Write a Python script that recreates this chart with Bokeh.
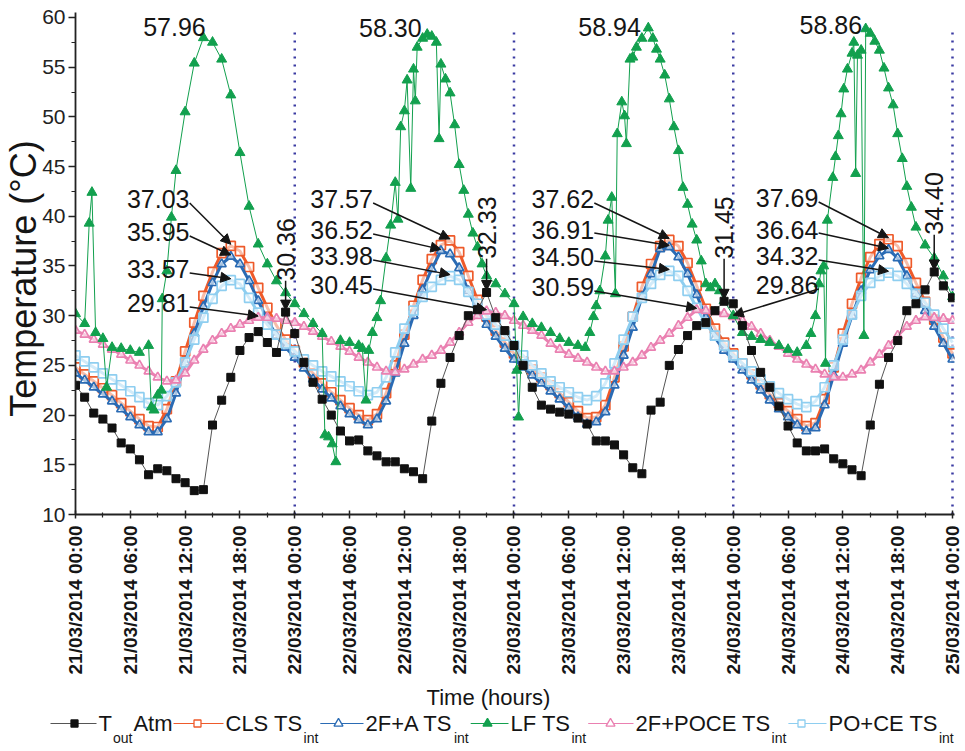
import math
from bokeh.plotting import figure
from bokeh.models import (ColumnDataSource, Range1d, FixedTicker, SingleIntervalTicker,
                          LabelSet, Arrow, NormalHead)
from bokeh.layouts import column
from bokeh.embed import file_html
from bokeh.resources import INLINE
from bokeh.core.properties import value

FONT = "Liberation Sans"

# ---------------- data (hourly, 21/03/2014 00:00 = hour 0) ----------------
hours = list(range(97))

t_out_atm = [23.0, 21.8, 20.2, 19.6, 18.7, 17.2, 16.6, 15.5, 14.0, 14.6, 14.4, 13.6, 13.2, 12.4, 12.5,
             19.0, 21.5, 23.8, 26.5, 27.8, 28.4, 27.3, 26.3, 30.36, 28.2,
             25.3, 23.3, 21.6, 20.0, 18.4, 17.4, 17.5, 16.4, 15.9, 15.3, 15.3, 14.6, 14.3, 13.6,
             19.4, 23.2, 25.8, 28.0, 30.0, 30.6, 32.33, 29.8, 28.5, 27.0,
             25.0, 22.8, 21.0, 20.6, 20.3, 20.1, 19.7, 19.1, 17.4, 17.4, 17.0, 16.0, 14.7, 14.1,
             20.5, 21.3, 25.0, 26.6, 28.0, 29.0, 29.3, 30.5, 31.45, 31.2,
             29.0, 26.5, 24.3, 22.8, 20.9, 18.9, 17.2, 16.4, 16.4, 16.6, 15.6, 15.1, 14.5, 13.9,
             19.0, 23.1, 25.8, 27.5, 30.5, 31.2, 32.6, 34.40, 33.0, 31.8]

cls_ts = [24.8, 24.1, 23.4, 22.7, 22.0, 21.2, 20.4, 19.6, 18.9, 18.8, 20.6, 23.4, 26.4, 29.3, 32.0,
          34.4, 36.3, 37.03, 36.5, 34.9, 32.8, 30.8, 29.0, 27.6, 26.5,
          25.3, 24.2, 23.2, 22.3, 21.5, 20.7, 20.0, 19.5, 20.1, 22.2, 25.0, 28.1, 31.0, 33.6,
          35.7, 37.1, 37.57, 36.4, 34.0, 31.6, 29.9, 28.5, 27.3, 26.2,
          25.4, 24.6, 23.8, 23.0, 22.2, 21.3, 20.4, 19.7, 19.8, 21.0, 23.8, 26.9, 29.9, 32.9,
          35.2, 37.0, 37.62, 37.0, 35.3, 33.0, 30.7, 28.7, 27.3, 26.2,
          25.2, 24.1, 23.1, 22.1, 21.2, 20.4, 19.6, 18.9, 19.2, 21.6, 24.8, 28.2, 31.2, 33.8,
          35.9, 37.2, 37.69, 37.0, 35.3, 33.3, 31.4, 29.6, 27.8, 26.2]

f2a_ts = [24.2, 23.5, 22.8, 22.1, 21.4, 20.6, 19.8, 19.0, 18.3, 18.3, 19.6, 22.2, 25.3, 28.2, 30.9,
          33.3, 35.2, 35.95, 35.2, 33.5, 31.5, 29.6, 28.0, 26.8, 25.8,
          24.7, 23.6, 22.6, 21.7, 20.9, 20.1, 19.5, 19.0, 19.6, 21.4, 24.2, 27.2, 30.0, 32.6,
          34.7, 36.52, 36.2, 34.8, 32.5, 30.5, 29.1, 27.9, 26.7, 25.6,
          24.8, 24.0, 23.2, 22.4, 21.6, 20.7, 19.8, 19.1, 19.3, 20.3, 23.0, 26.0, 28.8, 31.9,
          34.2, 36.7, 36.91, 35.9, 34.2, 32.1, 29.8, 27.8, 26.5, 25.6,
          24.5, 23.5, 22.5, 21.5, 20.6, 19.8, 19.0, 18.4, 18.7, 21.0, 24.0, 27.2, 30.0, 32.5,
          34.6, 36.0, 36.64, 35.8, 34.0, 32.2, 30.5, 28.9, 27.2, 25.6]

f2poce_ts = [28.5, 28.1, 27.6, 27.1, 26.6, 26.1, 25.5, 25.0, 24.4, 23.8, 23.4, 23.5, 24.2, 25.5, 26.6,
             27.5, 28.2, 28.7, 29.1, 29.5, 29.81, 29.8, 29.7, 29.5, 29.3,
             28.9, 28.4, 27.9, 27.4, 26.9, 26.4, 25.8, 25.3, 24.8, 24.4, 24.3, 24.6, 25.1, 25.6,
             26.0, 26.5, 27.3, 28.3, 29.3, 30.0, 30.45, 30.3, 30.0, 29.5,
             29.0, 28.5, 28.0, 27.2, 26.6, 26.1, 25.7, 25.3, 24.8, 24.4, 24.4, 24.8, 25.3, 26.0,
             26.8, 27.5, 28.2, 29.0, 29.8, 30.59, 30.5, 30.4, 30.2, 29.9,
             29.5, 28.9, 28.2, 27.5, 26.9, 26.2, 25.6, 25.1, 24.6, 24.1, 23.8, 23.8, 24.1, 24.5,
             25.3, 26.1, 27.0, 28.0, 28.9, 29.5, 29.86, 29.8, 29.7, 29.5]

poce_ts = [26.0, 25.4, 24.8, 24.2, 23.6, 23.0, 22.4, 21.8, 21.2, 21.0, 21.9, 23.3, 25.3, 27.6, 29.8,
           31.7, 33.0, 33.57, 33.2, 31.8, 30.3, 29.1, 28.1, 27.2, 26.4,
           25.6, 25.0, 24.4, 23.9, 23.4, 22.9, 22.4, 22.0, 22.3, 23.8, 26.3, 28.7, 30.5, 31.9,
           32.9, 33.6, 33.98, 33.6, 32.4, 31.2, 30.1, 29.1, 28.0, 27.0,
           26.0, 25.0, 24.2, 23.4, 22.8, 22.3, 21.8, 21.5, 21.9, 23.2, 25.2, 27.6, 29.9, 31.8,
           33.2, 34.1, 34.50, 34.0, 32.5, 30.8, 29.2, 28.0, 27.0, 26.0,
           25.2, 24.4, 23.6, 22.9, 22.2, 21.6, 21.1, 20.8, 21.4, 22.8, 25.0, 27.6, 30.1, 32.0,
           33.3, 34.0, 34.32, 34.0, 33.2, 32.2, 31.3, 30.1, 28.7, 27.3]

lf_hours = [0, 1, 1.5, 1.8, 2.2, 3, 3.4, 4, 5, 6, 7, 8, 8.3, 8.6, 9, 9.4, 9.5, 10, 10.5, 11, 12, 13, 14,
            15, 16, 17, 18, 19, 20, 21, 22, 23, 24, 25, 26, 27, 27.3, 27.7, 28.1, 28.5, 29, 30, 31,
            31.4, 31.8, 32.1, 32.5, 33, 33.4, 34, 34.5, 35, 35.3, 35.6, 36, 36.3, 36.7, 37, 37.2,
            37.4, 38, 38.5, 39, 39.5, 39.8, 40, 40.5, 41, 41.5, 42, 42.5, 43, 43.5, 44, 44.5, 45,
            46, 47, 48, 48.3, 48.5, 49, 50, 51, 52, 53, 54, 55, 55.8, 56.3, 56.7, 57, 57.4, 58,
            58.3, 58.7, 59.1, 59.3, 59.8, 60.1, 60.3, 60.7, 61, 61.4, 62, 62.7, 63.2, 63.6, 64,
            64.5, 65, 65.5, 66, 66.5, 67, 67.5, 68, 68.5, 69, 69.5, 70, 70.5, 71, 72, 73, 74, 75,
            76, 77, 78, 79, 80, 80.5, 81, 81.4, 81.6, 81.9, 82.1, 82.3, 82.9, 83.2, 83.5, 83.8,
            84.1, 84.5, 85, 85.2, 85.4, 85.6, 86, 86.3, 86.5, 87, 87.5, 88, 88.5, 89, 89.5, 90,
            90.5, 91, 91.5, 92, 93, 94, 95, 96]
lf_ts = [30.2, 29.2, 39.3, 42.4, 28.3, 27.7, 22.8, 26.8, 26.7, 26.5, 26.3, 27.0, 20.8, 20.5, 22.0,
         22.5, 31.7, 34.5, 39.9, 44.6, 50.5, 55.4, 57.96,
         57.5, 55.8, 52.2, 46.4, 41.0, 37.2, 35.2, 33.5, 32.3, 31.2, 30.2, 29.2, 28.2, 18.0, 17.8,
         17.1, 15.3, 27.5, 27.3, 27.0,
         26.7, 21.5, 26.5, 28.3, 29.8, 31.5, 35.8, 39.1, 43.4, 39.7, 49.0, 50.6, 53.7, 42.8, 54.8,
         51.6, 57.0, 57.9, 58.30, 58.1, 57.5, 47.8, 55.3, 53.8, 52.4, 49.2, 45.2, 42.6, 40.2, 38.3,
         36.9, 35.2, 34.0,
         33.2, 32.2, 31.2, 24.5, 19.8, 29.9, 29.2, 28.8, 28.3, 27.7, 27.3, 27.0, 26.8, 28.3, 29.9,
         31.0, 32.5, 36.0,
         39.6, 41.9, 32.2, 48.3, 51.5, 50.1, 47.3, 55.8, 56.0, 57.0, 57.9, 58.94, 57.9, 56.8, 55.8,
         54.2, 51.8, 49.0, 46.6, 42.9, 41.2, 39.2, 37.6, 35.5, 33.2, 32.8, 33.2, 32.5, 31.5, 30.0,
         28.3, 27.9, 27.6,
         27.3, 27.0, 26.6, 26.3, 27.0, 28.2, 30.0, 33.2, 34.5, 35.0, 25.2, 39.6, 43.9, 46.0, 48.1,
         50.3,
         52.8, 54.8, 56.4, 57.5, 44.3, 56.2, 56.7, 28.0, 58.86, 58.4, 57.6, 56.7, 54.9, 52.9, 51.2,
         48.3,
         45.8, 43.0, 40.9, 38.9, 37.1, 35.8, 34.0, 31.9]

tick_hours = [0, 6, 12, 18, 24, 30, 36, 42, 48, 54, 60, 66, 72, 78, 84, 90, 96]
tick_labels = ["21/03/2014 00:00", "21/03/2014 06:00", "21/03/2014 12:00", "21/03/2014 18:00",
               "22/03/2014 00:00", "22/03/2014 06:00", "22/03/2014 12:00", "22/03/2014 18:00",
               "23/03/2014 00:00", "23/03/2014 06:00", "23/03/2014 12:00", "23/03/2014 18:00",
               "24/03/2014 00:00", "24/03/2014 06:00", "24/03/2014 12:00", "24/03/2014 18:00",
               "25/03/2014 00:00"]
minor_hours = [3, 9, 15, 21, 27, 33, 39, 45, 51, 57, 63, 69, 75, 81, 87, 93]
day_bounds = [24, 48, 72, 96]

# annotation texts (values written on the chart)
lf_peak_texts = ["57.96", "58.30", "58.94", "58.86"]
stack_texts = [["37.03", "35.95", "33.57", "29.81"],
               ["37.57", "36.52", "33.98", "30.45"],
               ["37.62", "36.91", "34.50", "30.59"],
               ["37.69", "36.64", "34.32", "29.86"]]
tout_texts = ["30.36", "32.33", "31.45", "34.40"]

# annotation placement (hours / degC)
lf_label_x = [10.83, 34.47, 58.47, 82.69]
lf_label_y = [59.0, 58.9, 59.0, 59.2]
stack_x = [9.05, 29.13, 53.34, 77.9]
stack_y = [[41.69, 38.37, 34.65, 31.23],
           [41.69, 38.57, 35.96, 33.04],
           [41.69, 38.67, 35.86, 32.84],
           [41.79, 38.67, 35.96, 33.04]]
tout_label_y = [36.66, 38.87, 38.87, 41.29]

# colours
C_TOUT = "#111111"
C_CLS = "#EE5A2A"
C_F2A = "#2A6BB4"
C_LF = "#12A04E"
C_P2F = "#EA80B1"
C_POCE = "#8ECEF0"
TXT = "#151515"


def peak(xs, ys, lo, hi):
    best = None
    for x, y in zip(xs, ys):
        if lo <= x <= hi and (best is None or y > best[1]):
            best = (x, y)
    return best


# ---------------- main figure ----------------
p = figure(width=965, height=685, x_range=Range1d(0, 96.22), y_range=Range1d(10, 60.5),
           toolbar_location=None, output_backend="svg",
           min_border_left=72, min_border_right=11, min_border_top=12, min_border_bottom=171)
p.frame_align = False
p.grid.visible = False
p.outline_line_color = None
p.background_fill_color = "white"
p.border_fill_color = "white"

xa = p.xaxis[0]
xa.ticker = FixedTicker(ticks=tick_hours, minor_ticks=minor_hours)
xa.major_label_overrides = {h: lab for h, lab in zip(tick_hours, tick_labels)}
xa.major_label_orientation = math.pi / 2
xa.major_label_text_font = FONT
xa.major_label_text_font_size = "19px"
xa.major_label_text_font_style = "bold"
xa.major_label_text_color = TXT
xa.major_label_standoff = 7
xa.major_tick_in = 4
xa.major_tick_out = 4
xa.minor_tick_in = 2
xa.minor_tick_out = 3
ya = p.yaxis[0]
ya.ticker = SingleIntervalTicker(interval=5, num_minor_ticks=2)
ya.major_label_text_font = FONT
ya.major_label_text_font_size = "21px"
ya.major_label_text_color = "#222222"
ya.major_label_standoff = 3
ya.major_tick_in = 0
ya.major_tick_out = 7
ya.minor_tick_in = 0
ya.minor_tick_out = 4
ya.axis_label = "Temperature (°C)\u00a0\u00a0\u00a0"
ya.axis_label_text_font = FONT
ya.axis_label_text_font_size = "36px"
ya.axis_label_text_font_style = "normal"
ya.axis_label_text_color = TXT
ya.axis_label_standoff = -5
for ax in (xa, ya):
    ax.axis_line_color = "#222222"
    ax.axis_line_width = 1.8
    ax.major_tick_line_color = "#222222"
    ax.major_tick_line_width = 1.5
    ax.minor_tick_line_color = "#222222"
    ax.minor_tick_line_width = 1.2

# day separators
p.segment(x0=day_bounds, y0=[10] * len(day_bounds), x1=day_bounds, y1=[58.8] * len(day_bounds),
          line_color="#3A3AA2", line_width=2.5, line_dash="2 6")


def smooth(ys, color, marker):
    p.line(hours, ys, line_color=color, line_width=3)
    p.scatter(hours, ys, marker=marker, size=9, line_color=color, fill_color="white",
              fill_alpha=0.6, line_width=1.7)


smooth(cls_ts, C_CLS, "square")
smooth(f2a_ts, C_F2A, "triangle")
smooth(poce_ts, C_POCE, "square")
smooth(f2poce_ts, C_P2F, "triangle")

p.line(lf_hours, lf_ts, line_color=C_LF, line_width=1)
p.scatter(lf_hours, lf_ts, marker="triangle", size=10, line_color=C_LF, fill_color=C_LF)

p.line(hours, t_out_atm, line_color="#555555", line_width=1)
p.scatter(hours, t_out_atm, marker="square", size=8, line_color=C_TOUT, fill_color=C_TOUT)

# ---------------- annotations ----------------
stack_series = [cls_ts, f2a_ts, poce_ts, f2poce_ts]
h_x, h_y, h_t = [], [], []
a_x0, a_y0, a_x1, a_y1 = [], [], [], []
v_x, v_y, v_t = [], [], []
for d in range(4):
    lo, hi = 24 * d, 24 * d + 24
    h_x.append(lf_label_x[d]); h_y.append(lf_label_y[d]); h_t.append(lf_peak_texts[d])
    for k, ser in enumerate(stack_series):
        px, py = peak(hours, ser, lo, hi)
        h_x.append(stack_x[d]); h_y.append(stack_y[d][k]); h_t.append(stack_texts[d][k])
        a_x0.append(stack_x[d] + 3.45); a_y0.append(stack_y[d][k] - 0.35)
        a_x1.append(px); a_y1.append(py + 0.15)
    tx, ty = peak(hours, t_out_atm, lo, hi)
    v_x.append(tx); v_y.append(tout_label_y[d]); v_t.append(tout_texts[d])
    a_x0.append(tx); a_y0.append(tout_label_y[d] - 3.15)
    a_x1.append(tx); a_y1.append(ty + 0.2)

p.add_layout(LabelSet(x="x", y="y", text="t", source=ColumnDataSource(dict(x=h_x, y=h_y, t=h_t)),
                      text_align="center", text_baseline="middle", text_font=value(FONT),
                      text_font_size="25px", text_color=TXT))
p.add_layout(LabelSet(x="x", y="y", text="t", source=ColumnDataSource(dict(x=v_x, y=v_y, t=v_t)),
                      angle=math.pi / 2, text_align="center", text_baseline="middle",
                      text_font=value(FONT), text_font_size="25px", text_color=TXT))
p.add_layout(Arrow(end=NormalHead(size=10, fill_color=TXT, line_color=TXT, line_width=1),
                   x_start="x0", y_start="y0", x_end="x1", y_end="y1",
                   source=ColumnDataSource(dict(x0=a_x0, y0=a_y0, x1=a_x1, y1=a_y1)),
                   line_color=TXT, line_width=1.5))

# ---------------- legend + x title strip ----------------
leg = figure(width=965, height=66, x_range=Range1d(0, 965), y_range=Range1d(66, 0),
             toolbar_location=None, output_backend="svg", x_axis_type=None, y_axis_type=None,
             min_border_left=0, min_border_right=0, min_border_top=0, min_border_bottom=0)
leg.frame_align = False
leg.grid.visible = False
leg.outline_line_color = None

leg.text(x=[488], y=[12], text=["Time (hours)"], text_align="center", text_baseline="middle",
         text_font=value(FONT), text_font_size="22px", text_color=TXT)

legend_main = ["T", "CLS TS", "2F+A TS", "LF TS", "2F+POCE TS", "PO+CE TS"]
legend_sub = ["out", "int", "int", "int", "int", "int"]
legend_tail = ["Atm", "", "", "", "", ""]
legend_text_x = [98, 225, 365, 510, 635, 828]
legend_marker_x = [74, 197, 338, 487, 610, 801]
legend_colors = [C_TOUT, C_CLS, C_F2A, C_LF, C_P2F, C_POCE]
legend_line_colors = ["#555555", C_CLS, C_F2A, C_LF, C_P2F, C_POCE]
legend_markers = ["square", "square", "triangle", "triangle", "triangle", "square"]
legend_filled = [True, False, False, True, False, False]

WID = {' ': 278, '+': 584, 'A': 667, 'C': 722, 'E': 667, 'F': 611, 'L': 556, 'O': 778, 'P': 667,
       'S': 667, 'T': 611, 'a': 556, 'i': 222, 'm': 833, 'n': 556, 'o': 556, 't': 278, 'u': 556}


def tw(s, size):
    return sum(WID.get(c, 556) for c in s) * size / 1000.0


MAIN, SUB = 22, 14
ROW, SUBROW = 38, 52
prev_end = 50
for i in range(6):
    x0 = legend_text_x[i]
    leg.segment(x0=[prev_end], y0=[ROW], x1=[x0 - 2], y1=[ROW], line_color=legend_line_colors[i],
                line_width=1)
    fc = legend_colors[i] if legend_filled[i] else "white"
    leg.scatter(x=[legend_marker_x[i]], y=[ROW], marker=legend_markers[i],
                size=9 if legend_markers[i] == "triangle" else 7,
                line_color=legend_colors[i], fill_color=fc, line_width=1.3)
    leg.text(x=[x0], y=[ROW], text=[legend_main[i]], text_align="left", text_baseline="middle",
             text_font=value(FONT), text_font_size=f"{MAIN}px", text_color=TXT)
    xs = x0 + tw(legend_main[i], MAIN) + 1
    leg.text(x=[xs], y=[SUBROW], text=[legend_sub[i]], text_align="left", text_baseline="middle",
             text_font=value(FONT), text_font_size=f"{SUB}px", text_color=TXT)
    xe = xs + tw(legend_sub[i], SUB) + 1
    if legend_tail[i]:
        leg.text(x=[xe], y=[ROW], text=[legend_tail[i]], text_align="left",
                 text_baseline="middle", text_font=value(FONT),
                 text_font_size=f"{MAIN}px", text_color=TXT)
        xe += tw(legend_tail[i], MAIN)
    prev_end = xe + 1

layout = column(p, leg)
open("out.html", "w").write(file_html(layout, INLINE))
